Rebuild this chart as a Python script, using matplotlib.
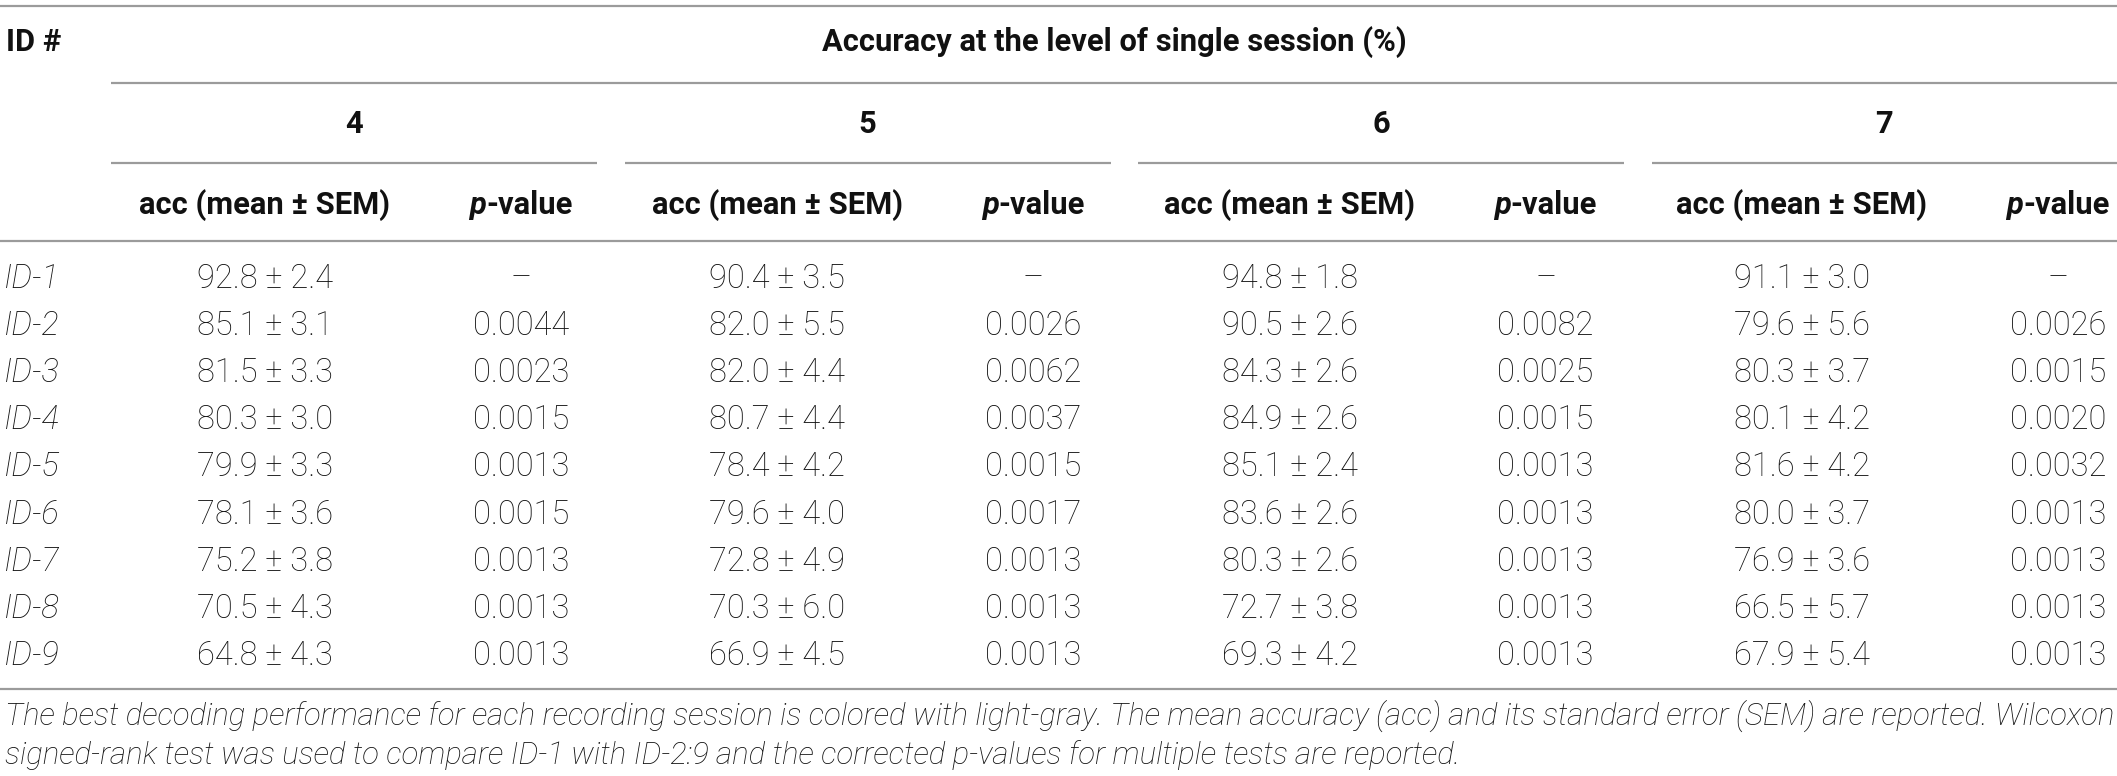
import matplotlib
matplotlib.use("Agg")
import matplotlib.pyplot as plt

# table values
ids = ["ID-1", "ID-2", "ID-3", "ID-4", "ID-5", "ID-6", "ID-7", "ID-8", "ID-9"]
sessions = ["4", "5", "6", "7"]

acc_s4 = [92.8, 85.1, 81.5, 80.3, 79.9, 78.1, 75.2, 70.5, 64.8]
sem_s4 = [2.4, 3.1, 3.3, 3.0, 3.3, 3.6, 3.8, 4.3, 4.3]
p_s4 = [None, 0.0044, 0.0023, 0.0015, 0.0013, 0.0015, 0.0013, 0.0013, 0.0013]

acc_s5 = [90.4, 82.0, 82.0, 80.7, 78.4, 79.6, 72.8, 70.3, 66.9]
sem_s5 = [3.5, 5.5, 4.4, 4.4, 4.2, 4.0, 4.9, 6.0, 4.5]
p_s5 = [None, 0.0026, 0.0062, 0.0037, 0.0015, 0.0017, 0.0013, 0.0013, 0.0013]

acc_s6 = [94.8, 90.5, 84.3, 84.9, 85.1, 83.6, 80.3, 72.7, 69.3]
sem_s6 = [1.8, 2.6, 2.6, 2.6, 2.4, 2.6, 2.6, 3.8, 4.2]
p_s6 = [None, 0.0082, 0.0025, 0.0015, 0.0013, 0.0013, 0.0013, 0.0013, 0.0013]

acc_s7 = [91.1, 79.6, 80.3, 80.1, 81.6, 80.0, 76.9, 66.5, 67.9]
sem_s7 = [3.0, 5.6, 3.7, 4.2, 4.2, 3.7, 3.6, 5.7, 5.4]
p_s7 = [None, 0.0026, 0.0015, 0.0020, 0.0032, 0.0013, 0.0013, 0.0013, 0.0013]

title = "Accuracy at the level of single session (%)"
sub_acc = "acc (mean \u00b1 SEM)"
caption1 = ("The best decoding performance for each recording session is colored with light-gray. "
            "The mean accuracy (acc) and its standard error (SEM) are reported. Wilcoxon")
caption2 = ("signed-rank test was used to compare ID-1 with ID-2:9 and the corrected "
            "p-values for multiple tests are reported.")

accs = [acc_s4, acc_s5, acc_s6, acc_s7]
sems = [sem_s4, sem_s5, sem_s6, sem_s7]
pvals = [p_s4, p_s5, p_s6, p_s7]

# layout (pixels)
W, H = 2117, 776
FAM = ["Roboto", "DejaVu Sans"]
TXT = "#111111"
LINE = "#9b9b9b"

fig = plt.figure(figsize=(W / 100, H / 100), dpi=100)
ax = fig.add_axes([0, 0, 1, 1])
ax.set_xlim(0, W)
ax.set_ylim(H, 0)
ax.axis("off")
renderer = fig.canvas.get_renderer()


def width_of(s, **kw):
    t = ax.text(0, 0, s, **kw)
    w = t.get_window_extent(renderer).width
    t.remove()
    return w


def fit_size(s, target, **kw):
    return 20 * target / width_of(s, fontsize=20, **kw)


kw_b = dict(fontweight="bold", family=FAM, color=TXT)
kw_l = dict(fontweight="light", family=FAM, color=TXT)
kw_li = dict(fontweight="light", fontstyle="italic", family=FAM, color=TXT)

FS_HEAD = fit_size(sub_acc, 250, **kw_b)
FS_BODY = fit_size("92.8 \u00b1 2.4", 136, **kw_l)

y_top, y_title, y_line1 = 6, 42, 83
y_grp, y_line2, y_sub, y_line3 = 124, 163, 205, 241
row_y0, row_dy = 279, 47.1
y_bottom, y_cap1, y_cap2 = 689, 716, 755

col_step = 512.3
acc_x0, p_x0 = 265, 521
grp_x0, grp_step, grp_len = 111, 513.5, 486

# rules
for y in (y_top, y_line3, y_bottom):
    ax.plot([0, W], [y, y], color=LINE, lw=1.6, solid_capstyle="butt")
ax.plot([grp_x0, W], [y_line1, y_line1], color=LINE, lw=1.6, solid_capstyle="butt")

# headers
ax.text(6, y_title, "ID #", ha="left", va="center", fontsize=FS_HEAD, **kw_b)
ax.text((grp_x0 + W) / 2, y_title, title, ha="center", va="center", fontsize=FS_HEAD, **kw_b)

kw_p = dict(fontsize=FS_HEAD, fontstyle="italic", **kw_b)
kw_v = dict(fontsize=FS_HEAD, **kw_b)
wp = width_of("p", **kw_p)
wv = width_of("-value", **kw_v)

for i, s in enumerate(sessions):
    x0 = grp_x0 + i * grp_step
    x1 = min(x0 + grp_len, W)
    ax.plot([x0, x1], [y_line2, y_line2], color=LINE, lw=1.6, solid_capstyle="butt")
    ax.text((x0 + x1) / 2, y_grp, s, ha="center", va="center", fontsize=FS_HEAD, **kw_b)

    ax.text(acc_x0 + i * col_step, y_sub, sub_acc, ha="center", va="center",
            fontsize=FS_HEAD, **kw_b)
    # "p" italic, "-value" upright
    xs = p_x0 + i * col_step - (wp + wv) / 2
    ax.text(xs, y_sub, "p", ha="left", va="center", **kw_p)
    ax.text(xs + wp, y_sub, "-value", ha="left", va="center", **kw_v)

# body
for r, name in enumerate(ids):
    y = row_y0 + r * row_dy
    ax.text(4, y, name, ha="left", va="center", fontsize=FS_BODY, **kw_li)
    for i in range(len(sessions)):
        ax.text(acc_x0 + i * col_step, y, f"{accs[i][r]:.1f} \u00b1 {sems[i][r]:.1f}",
                ha="center", va="center", fontsize=FS_BODY, **kw_l)
        pv = pvals[i][r]
        ptxt = "\u2013" if pv is None else f"{pv:.4f}"
        ax.text(p_x0 + i * col_step, y, ptxt, ha="center", va="center",
                fontsize=FS_BODY, **kw_l)

# caption, sized so the first line spans the width
fs_cap = fit_size(caption1, W - 10, **kw_li)
ax.text(5, y_cap1, caption1, ha="left", va="center", fontsize=fs_cap, **kw_li)
ax.text(5, y_cap2, caption2, ha="left", va="center", fontsize=fs_cap, **kw_li)

fig.savefig("out.png", dpi=100)
